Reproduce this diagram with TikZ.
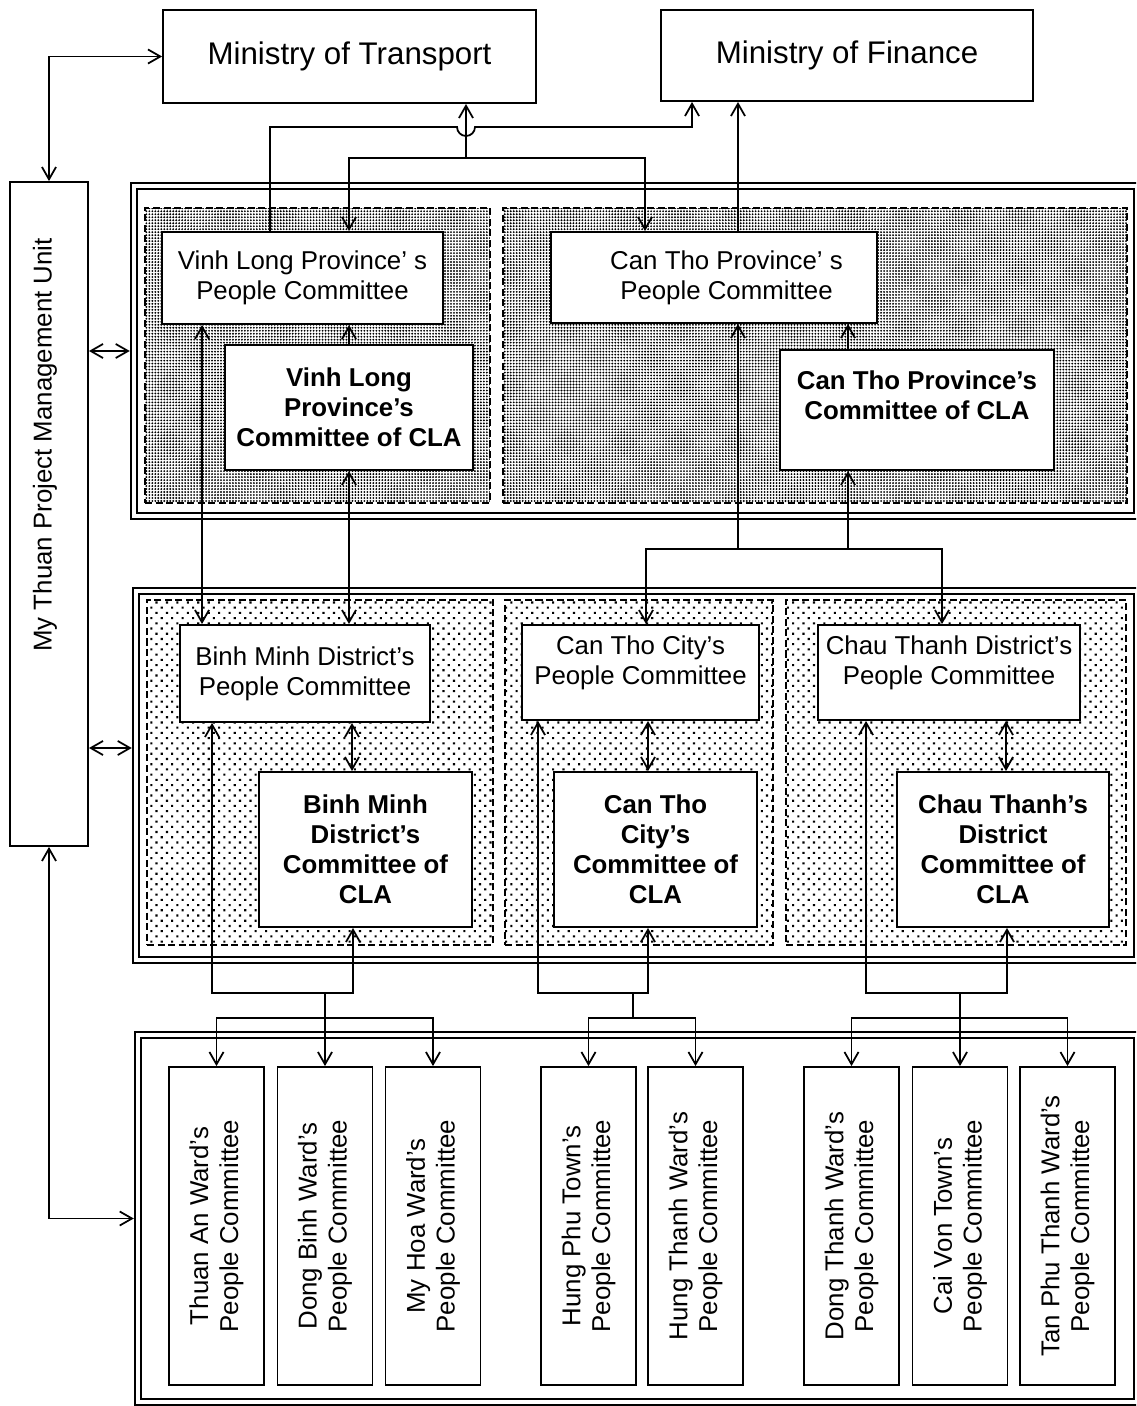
\documentclass[tikz,border=0pt]{standalone}
\usepackage{fontspec}
\setmainfont{Liberation Sans}
\usetikzlibrary{positioning, arrows.meta, patterns.meta}

\begin{document}
\begin{tikzpicture}[
        x=0.02cm, y=-0.02cm,
        font=\fontsize{14.7}{17}\selectfont,
        >={Straight Barb[length=7pt,width=8pt]},
        % Styles
        ministry/.style={% For the two ministries
            rectangle,
            draw,
            line width=1.1pt,
            font=\fontsize{17.8}{20}\selectfont,
            },
        unit/.style={% For the people committees
            rectangle,
            draw,
            fill=white,
            line width=1.1pt,
            align=center,
            inner sep=2pt,
            },
        cla/.style={% For the committees of CLA
            unit,
            font=\fontsize{14.7}{17}\selectfont\bfseries,
            },
        ward/.style={% For wards and towns, set upright (east is the top)
            unit,
            rotate=90,
            minimum width=6.36cm,
            minimum height=1.9cm,
            },
        tier/.style={% Outer line of a level frame
            rectangle,
            draw,
            line width=1.5pt,
            inner sep=0pt,
            },
        tierin/.style={% Inner line of a level frame
            rectangle,
            draw,
            line width=0.8pt,
            inner sep=0pt,
            },
        zone/.style={% Dotted area of one province or district
            rectangle,
            draw,
            line width=0.9pt,
            dash pattern=on 4pt off 2pt,
            inner sep=0pt,
            },
        dense/.style={% Fine dots, province level
            pattern={Dots[radius=0.6pt,distance=1.7pt]},
            },
        sparse/.style={% Coarse dots, district level
            pattern={Dots[radius=0.85pt,distance=4.2pt,angle=45]},
            },
        link/.style={% Connectors
            line width=1pt,
            },
        ]

    \useasboundingbox (0,0) rectangle (1136,1406);
    \clip (0,0) rectangle (1136,1406);

    % Nodes
        % Frames of the three levels
        \node [tier, minimum width=20.18cm, minimum height=6.72cm] (tier1) at (635.5,351) {};
        \node [tierin, minimum width=19.94cm, minimum height=6.48cm] (tier1in) at (tier1) {};
        \node [tier, minimum width=20.14cm, minimum height=7.5cm] (tier2) at (636.5,775.5) {};
        \node [tierin, minimum width=19.9cm, minimum height=7.26cm] (tier2in) at (tier2) {};
        \node [tier, minimum width=20.1cm, minimum height=7.46cm] (tier3) at (637.5,1218.5) {};
        \node [tierin, minimum width=19.86cm, minimum height=7.22cm] (tier3in) at (tier3) {};

        % Dotted areas named z#
        \node [zone, dense, minimum width=6.9cm, minimum height=5.9cm] (zvl) at (317.5,355.5) {};
        \node [zone, dense, minimum width=12.48cm, minimum height=5.9cm] (zctp) at (815,355.5) {};
        \node [zone, sparse, minimum width=6.92cm, minimum height=6.9cm] (zbm) at (320,772.5) {};
        \node [zone, sparse, minimum width=5.36cm, minimum height=6.9cm] (zctc) at (639,772.5) {};
        \node [zone, sparse, minimum width=6.8cm, minimum height=6.9cm] (zch) at (956,772.5) {};

        % Ministries and project unit
        \node [ministry, minimum width=7.46cm, minimum height=1.86cm] (mot) at (349.5,56.5) {Ministry of Transport};
        \node [ministry, minimum width=7.44cm, minimum height=1.82cm] (mof) at (847,55.5) {Ministry of Finance};
        \node [unit, minimum width=1.56cm, minimum height=13.28cm] (pmu) at (49,514) {};
        \node [rotate=90] (pmutext) at (45,445) {My Thuan Project Management Unit};

        % Province level
        \node [unit, minimum width=5.62cm, minimum height=1.84cm] (vlppc) at (302.5,278) {Vinh Long Province' s\\People Committee};
        \node [cla, minimum width=4.96cm, minimum height=2.5cm] (vlcla) at (349,407.5) {Vinh Long\\Province's\\Committee of CLA};
        \node [unit, minimum width=6.52cm, minimum height=1.82cm] (ctppc) at (714,277.5) {\hspace*{0.5cm}Can Tho Province' s\\\hspace*{0.5cm}People Committee};
        \node [cla, minimum width=5.48cm, minimum height=2.4cm, text depth=17pt] (ctcla) at (917,410) {Can Tho Province's\\Committee of CLA};

        % District level
        \node [unit, minimum width=5cm, minimum height=1.94cm] (bmppc) at (305,673.5) {Binh Minh District's\\People Committee};
        \node [cla, minimum width=4.26cm, minimum height=3.1cm] (bmcla) at (365.5,849.5) {Binh Minh\\District's\\Committee of\\CLA};
        \node [unit, minimum width=4.74cm, minimum height=1.9cm, text depth=14pt] (ctcppc) at (640.5,672.5) {Can Tho City's\\People Committee};
        \node [cla, minimum width=4.06cm, minimum height=3.1cm] (ctccla) at (655.5,849.5) {Can Tho\\City's\\Committee of\\CLA};
        \node [unit, minimum width=5.24cm, minimum height=1.9cm, text depth=14pt] (chppc) at (949,672.5) {Chau Thanh District's\\People Committee};
        \node [cla, minimum width=4.24cm, minimum height=3.1cm] (chcla) at (1003,849.5) {Chau Thanh's\\District\\Committee of\\CLA};

        % Ward level
        \node [ward] (thuan) at (216.5,1226) {Thuan An Ward's\\People Committee};
        \node [ward] (dongbinh) at (325,1226) {Dong Binh Ward's\\People Committee};
        \node [ward] (myhoa) at (433,1226) {My Hoa Ward's\\People Committee};
        \node [ward] (hungphu) at (588.5,1226) {Hung Phu Town's\\People Committee};
        \node [ward] (hungthanh) at (695.5,1226) {Hung Thanh Ward's\\People Committee};
        \node [ward] (dongthanh) at (851.5,1226) {Dong Thanh Ward's\\People Committee};
        \node [ward] (caivon) at (960,1226) {Cai Von Town's\\People Committee};
        \node [ward] (tanphu) at (1067.5,1226) {Tan Phu Thanh Ward's\\People Committee};

    % Connecting all
        % Project unit
        \draw [link, <->] (pmu.north) |- (mot.west);
        \draw [link, <->] (pmu.east |- tier1.west) -- (tier1.west);
        \draw [link, <->] (pmu.east |- 0,748) -- (tier2.west |- 0,748);
        \draw [link, <->] (pmu.south) |- (tier3.west);

        % Ministries
        \coordinate (motjoin) at (466,158);
        \draw [link, ->] (motjoin) -- (motjoin |- mot.south);
        \draw [link, ->] (motjoin) -| (vlcla.north |- vlppc.north);
        \draw [link, ->] (motjoin) -| ([xshift=-1.38cm]ctppc.north);
        \draw [link, ->] ([xshift=-0.65cm]vlppc.north) |- (457,127) arc[start angle=180, end angle=0, radius=9] -| ([xshift=-3.1cm]mof.south);
        \draw [link, ->] ([xshift=0.48cm]ctppc.north) -- ([xshift=0.48cm]ctppc.north |- mof.south);

        % Province level
        \draw [link, ->] (vlcla.north) -- (vlcla.north |- vlppc.south);
        \draw [link, <->] ([xshift=-2.01cm]vlppc.south) -- ([xshift=-2.01cm]vlppc.south |- bmppc.north);
        \draw [link, <->] (vlcla.south) -- (vlcla.south |- bmppc.north);
        \draw [link, ->] ([xshift=-1.38cm]ctcla.north) -- ([xshift=-1.38cm]ctcla.north |- ctppc.south);

        \coordinate (ctbus) at (738,549);
        \coordinate (ctclaleg) at ([xshift=-1.38cm]ctcla.south);
        \draw [link, <->] ([xshift=0.11cm]ctcppc.north) |- (ctbus) -| ([xshift=-0.14cm]chppc.north);
        \draw [link, ->] (ctbus) -- ([xshift=0.48cm]ctppc.south);
        \draw [link, ->] (ctclaleg |- ctbus) -- (ctclaleg);

        % District level
        \draw [link, <->] ([xshift=-0.27cm]bmcla.north) -- ([xshift=-0.27cm]bmcla.north |- bmppc.south);
        \draw [link, <->] ([xshift=-0.15cm]ctccla.north) -- ([xshift=-0.15cm]ctccla.north |- ctcppc.south);
        \draw [link, <->] ([xshift=0.06cm]chcla.north) -- ([xshift=0.06cm]chcla.north |- chppc.south);

        % Down to the wards
        \coordinate (bmbus) at (dongbinh.east |- 0,993);
        \coordinate (bmfork) at (dongbinh.east |- 0,1018);
        \draw [link, <->] ([xshift=-1.86cm]bmppc.south) |- (bmbus) -| ([xshift=-0.25cm]bmcla.south);
        \draw [link, ->] (bmbus) -- (dongbinh.east);
        \draw [link, <->] (thuan.east) |- (bmfork) -| (myhoa.east);

        \coordinate (ctcbus) at (633,993);
        \coordinate (ctcfork) at (633,1018);
        \draw [link, <->] ([xshift=-2.05cm]ctcppc.south) |- (ctcbus) -| ([xshift=-0.15cm]ctccla.south);
        \draw [link] (ctcbus) -- (ctcfork);
        \draw [link, <->] (hungphu.east) |- (ctcfork) -| (hungthanh.east);

        \coordinate (chbus) at (caivon.east |- 0,993);
        \coordinate (chfork) at (caivon.east |- 0,1018);
        \draw [link, <->] ([xshift=-1.66cm]chppc.south) |- (chbus) -| ([xshift=0.08cm]chcla.south);
        \draw [link, ->] (chbus) -- (caivon.east);
        \draw [link, <->] (dongthanh.east) |- (chfork) -| (tanphu.east);

\end{tikzpicture}
\end{document}
